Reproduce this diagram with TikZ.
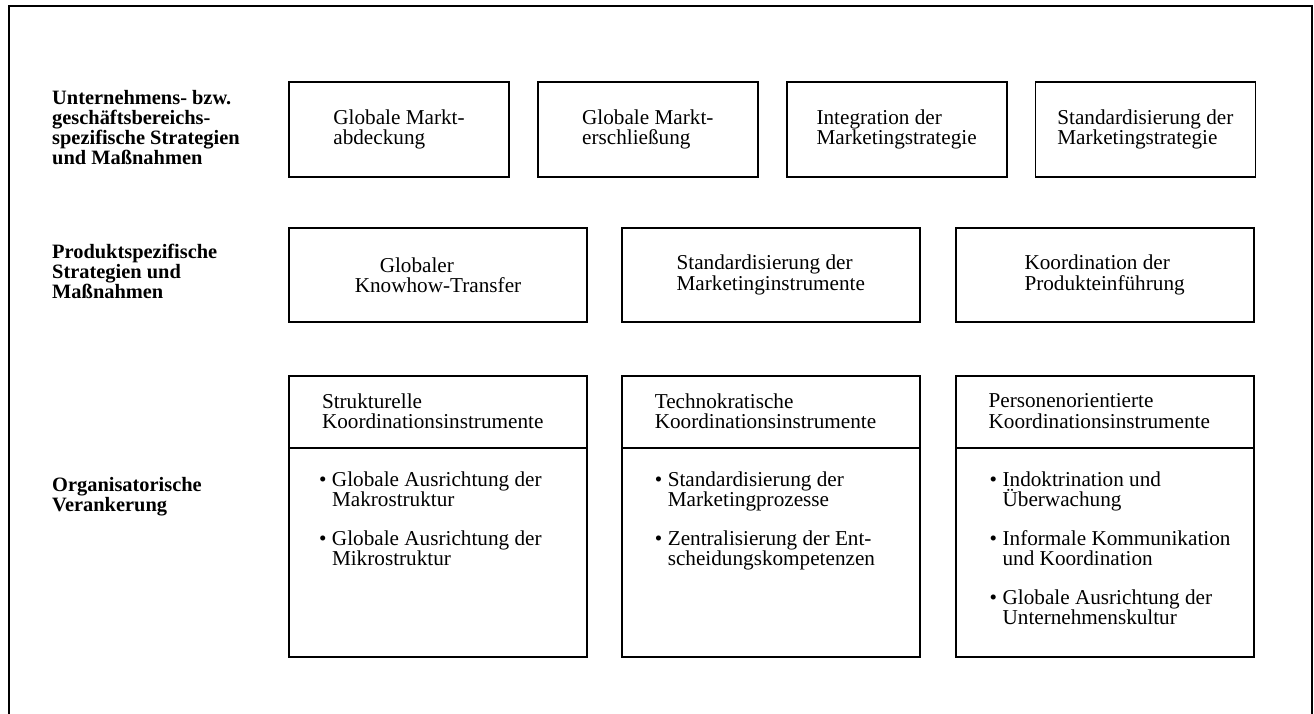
\documentclass[tikz,border=0pt]{standalone}
\usepackage{fontspec}
\setmainfont{Liberation Serif}
\usetikzlibrary{positioning}

\newcommand{\orgitem}[2]{\makebox[13pt][l]{\textbullet}#1\\\hspace*{13pt}#2}

\begin{document}
\begin{tikzpicture}[x=1pt, y=-1pt,
    txt/.style={font=\fontsize{21.2}{20.5}\selectfont},
    stratbox/.style={draw, line width=1.8pt, txt, align=left, inner sep=0pt, minimum width=220pt, minimum height=95pt},
    prodbox/.style={stratbox, minimum width=298pt, minimum height=94pt},
    colbox/.style={draw, line width=1.8pt, minimum width=298pt, minimum height=281pt, inner sep=0pt},
    headbox/.style={txt, align=left, inner ysep=0pt, inner xsep=33pt, text width=232pt, minimum height=72pt},
    itemlist/.style={txt, align=left, inner sep=0pt, anchor=north west},
    rowlabel/.style={font=\fontsize{20.4}{20}\selectfont\bfseries, align=left, inner sep=0pt, anchor=west}]
        \useasboundingbox (0,0) rectangle (1314,714);
        % outer frame, open at the bottom
        \coordinate (fbl) at (9,714); \coordinate (ftl) at (9,6);
        \coordinate (ftr) at (1312,6); \coordinate (fbr) at (1312,714);
        \draw[line width=2pt] (fbl)--(ftl)--(ftr)--(fbr);

        % row labels
        \node[rowlabel] (lbunt) at (52,128) {Unternehmens- bzw.\\geschäftsbereichs-\\spezifische Strategien\\und Maßnahmen};
        \node[rowlabel] (lbprod) at (52,271) {Produktspezifische\\Strategien und\\Maßnahmen};
        \node[rowlabel] (lborg) at (52,497) {Organisatorische\\Verankerung};

        % first row
        \node[stratbox] (strat1) at (399,129.5) {Globale Markt-\\abdeckung};
        \node[stratbox, right=27pt of strat1] (strat2) {Globale Markt-\\erschließung};
        \node[stratbox, right=27pt of strat2] (strat3) {Integration der\\Marketingstrategie};
        \node[stratbox, right=27pt of strat3] (strat4) {Standardisierung der\\Marketingstrategie};

        % second row
        \node[prodbox] (prod1) at (438,275) {\hspace*{25pt}Globaler\\Knowhow-Transfer};
        \node[prodbox, right=33pt of prod1] (prod2) {Standardisierung der\\Marketinginstrumente};
        \node[prodbox, right=34pt of prod2] (prod3) {Koordination der\\Produkteinführung};

        % third row
        \node[colbox] (col1) at (438,516.5) {};
        \node[colbox, right=33pt of col1] (col2) {};
        \node[colbox, right=34pt of col2] (col3) {};
        \node[headbox, below=0pt of col1.north] (head1) {Strukturelle\\Koordinationsinstrumente};
        \node[headbox, below=0pt of col2.north] (head2) {Technokratische\\Koordinationsinstrumente};
        \node[headbox, below=0pt of col3.north] (head3) {Personenorientierte\\Koordinationsinstrumente};
        \foreach \n in {1,2,3} \draw[line width=2pt] (head\n.south west) -- (head\n.south east);

        \node[itemlist] (items1) at ([shift={(30,24)}]head1.south west)
            {\orgitem{Globale Ausrichtung der}{Makrostruktur}\\[18pt]\orgitem{Globale Ausrichtung der}{Mikrostruktur}};
        \node[itemlist] (items2) at ([shift={(33,24)}]head2.south west)
            {\orgitem{Standardisierung der}{Marketingprozesse}\\[18pt]\orgitem{Zentralisierung der Ent-}{scheidungskompetenzen}};
        \node[itemlist] (items3) at ([shift={(34,24)}]head3.south west)
            {\orgitem{Indoktrination und}{Überwachung}\\[18pt]\orgitem{Informale Kommunikation}{und Koordination}\\[18pt]\orgitem{Globale Ausrichtung der}{Unternehmenskultur}};
    \end{tikzpicture}
\end{document}
